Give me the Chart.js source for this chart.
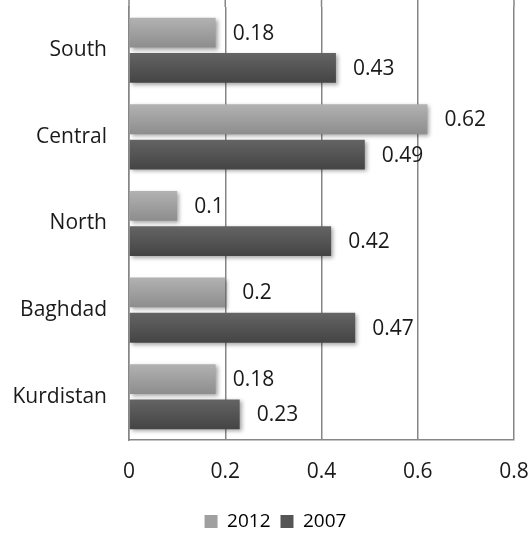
<!DOCTYPE html>
<html>
<head>
<meta charset="utf-8">
<script src="https://cdn.jsdelivr.net/npm/chart.js@4"></script>
<style>
  html, body { margin: 0; padding: 0; background: #fff; }
  #wrap { width: 532px; height: 535px; position: relative; }
</style>
</head>
<body>
<div id="wrap"><canvas id="c"></canvas></div>
<script>
// Regions, top to bottom
const regions = ['South', 'Central', 'North', 'Baghdad', 'Kurdistan'];
// Values per survey year
const values2012 = [0.18, 0.62, 0.1, 0.2, 0.18];
const values2007 = [0.43, 0.49, 0.42, 0.47, 0.23];
const seriesNames = ['2012', '2007'];
const xTicks = [0, 0.2, 0.4, 0.6, 0.8];

const FONT = '"Open Sans", "DejaVu Sans", sans-serif';
const CAT_PCT = 0.816;
const BAR_PCT = 0.843;

// gradient stops for each series (top, bottom)
const shades = [['#b2b2b2', '#8d8d8d'], ['#646464', '#444444']];
const flat = ['#a0a0a0', '#555555'];

function barGradient(dsIndex) {
  return function (ctx) {
    const chart = ctx.chart;
    const ys = chart.scales.y;
    if (!chart.chartArea || !ys || ctx.dataIndex === undefined) return flat[dsIndex];
    const catH = (ys.bottom - ys.top) / regions.length;
    const slot = catH * CAT_PCT / 2;
    const center = ys.getPixelForValue(ctx.dataIndex);
    const cy = center - catH * CAT_PCT / 2 + slot * (dsIndex + 0.5);
    const half = slot * BAR_PCT / 2;
    const g = chart.ctx.createLinearGradient(0, cy - half, 0, cy + half);
    g.addColorStop(0, shades[dsIndex][0]);
    g.addColorStop(1, shades[dsIndex][1]);
    return g;
  };
}

// soft drop shadow under the bars
const barShadow = {
  id: 'barShadow',
  beforeDatasetsDraw(chart) {
    const c = chart.ctx;
    c.save();
    c.shadowColor = 'rgba(0,0,0,0.35)';
    c.shadowBlur = 4;
    c.shadowOffsetX = 2;
    c.shadowOffsetY = 2;
  },
  afterDatasetsDraw(chart) {
    chart.ctx.restore();
  }
};

// value labels to the right of each bar
const valueLabels = {
  id: 'valueLabels',
  afterDatasetsDraw(chart) {
    const c = chart.ctx;
    c.save();
    c.font = '21px ' + FONT;
    c.fillStyle = '#1a1a1a';
    c.textAlign = 'left';
    c.textBaseline = 'middle';
    chart.data.datasets.forEach((ds, di) => {
      chart.getDatasetMeta(di).data.forEach((bar, i) => {
        c.fillText(String(ds.data[i]), bar.x + 17, bar.y + 1);
      });
    });
    c.restore();
  }
};

// vertical gridlines continue up to the top edge of the canvas
const gridToTop = {
  id: 'gridToTop',
  beforeDatasetsDraw(chart) {
    const xs = chart.scales.x;
    const c = chart.ctx;
    c.save();
    c.strokeStyle = '#868686';
    c.lineWidth = 1.5;
    xTicks.forEach(v => {
      const x = xs.getPixelForValue(v);
      c.beginPath();
      c.moveTo(x, 0);
      c.lineTo(x, chart.chartArea.top);
      c.stroke();
    });
    c.restore();
  }
};

// legend sits a little right of the canvas centre
const legendShift = {
  id: 'legendShift',
  beforeDraw(chart) {
    if (chart.legend) {
      chart.legend.left = 18;
      chart.legend.right = 533;
    }
  }
};

new Chart(document.getElementById('c'), {
  type: 'bar',
  data: {
    labels: regions,
    datasets: [
      { label: seriesNames[0], data: values2012, backgroundColor: barGradient(0) },
      { label: seriesNames[1], data: values2007, backgroundColor: barGradient(1) }
    ]
  },
  options: {
    indexAxis: 'y',
    responsive: true,
    maintainAspectRatio: false,
    animation: false,
    categoryPercentage: CAT_PCT,
    barPercentage: BAR_PCT,
    layout: { padding: { top: 7, right: 18, left: 0, bottom: -6 } },
    scales: {
      x: {
        min: 0,
        max: 0.8,
        afterBuildTicks(scale) { scale.ticks = xTicks.map(v => ({ value: v })); },
        afterFit(scale) {
          scale.height = 62;
          scale.paddingLeft = 0;
          scale.paddingRight = 0;
        },
        grid: { color: '#868686', lineWidth: 1.5, drawTicks: false },
        border: { color: '#868686', width: 1.5 },
        ticks: {
          color: '#1a1a1a',
          font: { family: FONT, size: 21 },
          padding: 19,
          maxRotation: 0,
          callback: v => String(v)
        }
      },
      y: {
        afterFit(scale) {
          scale.width = 129;
          scale.paddingTop = 0;
          scale.paddingBottom = 0;
        },
        grid: { display: false },
        border: { color: '#868686', width: 1.5 },
        ticks: {
          color: '#1a1a1a',
          font: { family: FONT, size: 21 },
          padding: 14
        }
      }
    },
    plugins: {
      legend: {
        position: 'bottom',
        labels: {
          font: { family: FONT, size: 19 },
          color: '#1a1a1a',
          boxWidth: 13,
          boxHeight: 13,
          padding: 10,
          generateLabels(chart) {
            return chart.data.datasets.map((ds, i) => ({
              text: ds.label,
              fillStyle: flat[i],
              strokeStyle: flat[i],
              lineWidth: 0,
              datasetIndex: i,
              hidden: false
            }));
          }
        }
      },
      tooltip: { enabled: false }
    }
  },
  plugins: [gridToTop, barShadow, valueLabels, legendShift]
});
</script>
</body>
</html>
